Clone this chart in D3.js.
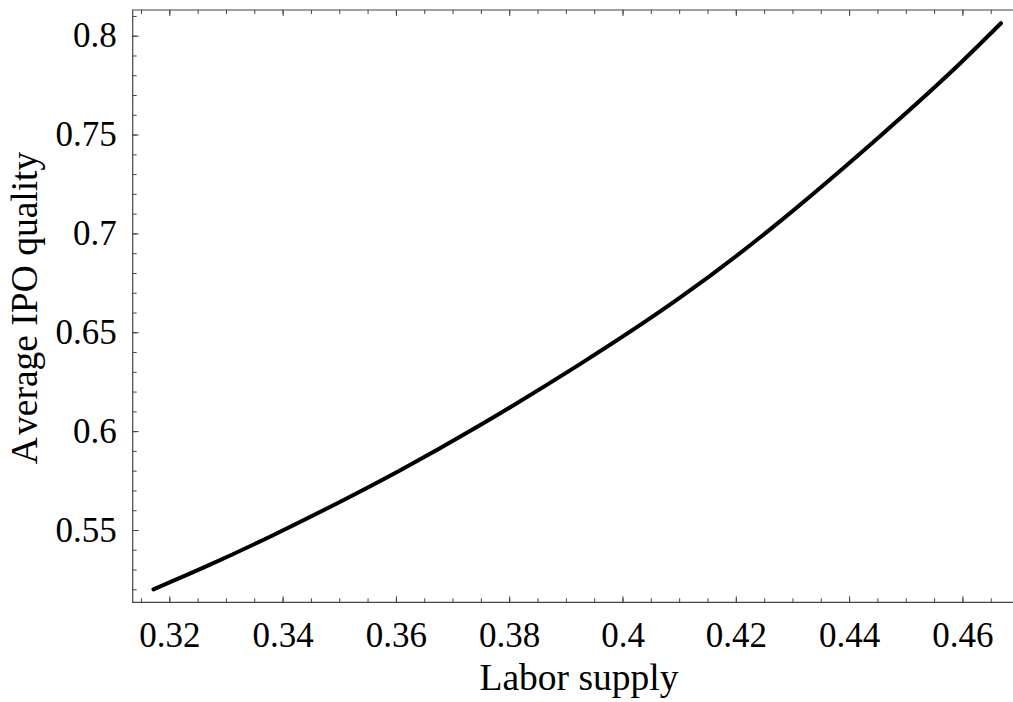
<!DOCTYPE html>
<html><head><meta charset="utf-8">
<script src="https://cdn.jsdelivr.net/npm/d3@7"></script>
<style>
html,body{margin:0;padding:0;background:#fff;}
svg text{font-family:"Liberation Serif","Times New Roman",serif;fill:#000;}
</style></head>
<body>
<svg id="chart" width="1013" height="702"></svg>
<script>
// Data
const laborSupply = [0.3172, 0.3266, 0.3384, 0.3501, 0.3607, 0.3749, 0.3925, 0.4102, 0.4278, 0.4455, 0.4578, 0.4668];
const ipoQuality  = [0.5200, 0.5317, 0.5475, 0.5642, 0.5801, 0.6031, 0.6339, 0.6676, 0.7061, 0.7493, 0.7811, 0.8063];
const xTickValues = [0.32, 0.34, 0.36, 0.38, 0.40, 0.42, 0.44, 0.46];
const xTickLabels = ["0.32", "0.34", "0.36", "0.38", "0.4", "0.42", "0.44", "0.46"];
const yTickValues = [0.55, 0.60, 0.65, 0.70, 0.75, 0.80];
const yTickLabels = ["0.55", "0.6", "0.65", "0.7", "0.75", "0.8"];
const xLabel = "Labor supply";
const yLabelParts = ["A", "verage IPO quality"];

const svg = d3.select("#chart");
const pLeft = 132.7, pRight = 1013, pTop = 10, pBottom = 602.3;

// scales anchored to tick positions measured on the reference
const x = d3.scaleLinear().domain([0.32, 0.46]).range([169.3, 169.3 + 7 * 113.3]);
const y = d3.scaleLinear().domain([0.55, 0.80]).range([35.7 + 5 * 98.86, 35.7]);

const xMinor = d3.range(0.315, 0.4701, 0.005).filter(v => x(v) > pLeft && x(v) < pRight);
const yMinor = d3.range(0.52, 0.8101, 0.01).filter(v => y(v) > pTop && y(v) < pBottom);

const axisColor = "#444";
const fmtX = v => xTickLabels[xTickValues.findIndex(t => Math.abs(t - v) < 1e-9)];
const fmtY = v => yTickLabels[yTickValues.findIndex(t => Math.abs(t - v) < 1e-9)];

function styleAxis(g) {
  g.select(".domain").remove();
  g.selectAll("line").attr("stroke", axisColor).attr("stroke-width", 1);
  g.selectAll("text").style("font-size", "35px").attr("fill", "#000");
}

// bottom axis: minor + major, inward ticks
svg.append("g").attr("transform", `translate(0,${pBottom})`)
  .call(d3.axisBottom(x).tickValues(xMinor).tickSize(-4).tickFormat(""))
  .call(styleAxis);
svg.append("g").attr("transform", `translate(0,${pBottom})`)
  .call(d3.axisBottom(x).tickValues(xTickValues).tickSize(-6).tickPadding(20).tickFormat(fmtX))
  .call(styleAxis);
// top axis (mirror ticks)
svg.append("g").attr("transform", `translate(0,${pTop})`)
  .call(d3.axisTop(x).tickValues(xMinor).tickSize(-4).tickFormat(""))
  .call(styleAxis);
svg.append("g").attr("transform", `translate(0,${pTop})`)
  .call(d3.axisTop(x).tickValues(xTickValues).tickSize(-6).tickFormat(""))
  .call(styleAxis);
// left axis
svg.append("g").attr("transform", `translate(${pLeft},0)`)
  .call(d3.axisLeft(y).tickValues(yMinor).tickSize(-4).tickFormat(""))
  .call(styleAxis);
svg.append("g").attr("transform", `translate(${pLeft},0)`)
  .call(d3.axisLeft(y).tickValues(yTickValues).tickSize(-6).tickPadding(16).tickFormat(fmtY))
  .call(styleAxis);

// frame
svg.append("path")
  .attr("d", `M${pRight},${pTop}H${pLeft}V${pBottom}H${pRight}`)
  .attr("fill", "none").attr("stroke", axisColor).attr("stroke-width", 1.2);

// curve
const pts = laborSupply.map((v, i) => [v, ipoQuality[i]]);
svg.append("path")
  .datum(pts)
  .attr("fill", "none")
  .attr("stroke", "#000")
  .attr("stroke-width", 4)
  .attr("stroke-linecap", "round")
  .attr("d", d3.line().x(d => x(d[0])).y(d => y(d[1])).curve(d3.curveNatural));

// axis labels
svg.append("text")
  .attr("x", 579).attr("y", 690)
  .attr("text-anchor", "middle")
  .style("font-size", "37.5px")
  .text(xLabel);
const yl = svg.append("text")
  .attr("transform", `translate(37,${308}) rotate(-90)`)
  .attr("text-anchor", "middle")
  .style("font-size", "37.5px");
yl.append("tspan").text(yLabelParts[0]);
yl.append("tspan").attr("dx", 5).text(yLabelParts[1]);
</script>
</body></html>
